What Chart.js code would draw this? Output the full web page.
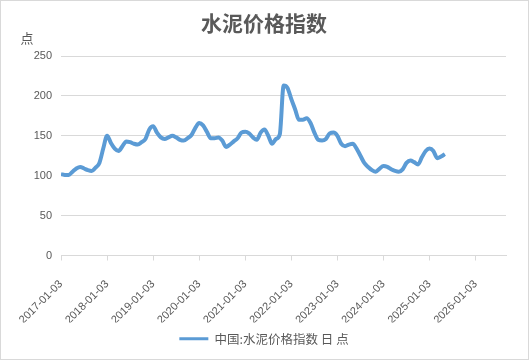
<!DOCTYPE html>
<html>
<head>
<meta charset="utf-8">
<script src="https://cdn.jsdelivr.net/npm/chart.js@4"></script>
<style>
  body { margin: 0; background: #fff; }
  #wrap { position: relative; width: 529px; height: 360px; }
  #frame { position: absolute; left: 0; top: 0; width: 529px; height: 360px; box-sizing: border-box; border: 1px solid #d9d9d9; }
  #myChart { position: absolute; left: 0; top: 0; }
</style>
</head>
<body>
<div id="wrap">
  <div id="frame"></div>
  <canvas id="myChart" width="529" height="360"></canvas>
</div>
<script>
// months (YYYY-MM) and index values
var months = [
  '2017-01','2017-02','2017-03','2017-04','2017-05','2017-06','2017-07','2017-08','2017-09','2017-10','2017-11','2017-12',
  '2018-01','2018-02','2018-03','2018-04','2018-05','2018-06','2018-07','2018-08','2018-09','2018-10','2018-11','2018-12',
  '2019-01','2019-02','2019-03','2019-04','2019-05','2019-06','2019-07','2019-08','2019-09','2019-10','2019-11','2019-12',
  '2020-01','2020-02','2020-03','2020-04','2020-05','2020-06','2020-07','2020-08','2020-09','2020-10','2020-11','2020-12',
  '2021-01','2021-02','2021-03','2021-04','2021-05','2021-06','2021-07','2021-08','2021-09','2021-10','2021-11','2021-12',
  '2022-01','2022-02','2022-03','2022-04','2022-05','2022-06','2022-07','2022-08','2022-09','2022-10','2022-11','2022-12',
  '2023-01','2023-02','2023-03','2023-04','2023-05','2023-06','2023-07','2023-08','2023-09','2023-10','2023-11','2023-12',
  '2024-01','2024-02','2024-03','2024-04','2024-05','2024-06','2024-07','2024-08','2024-09','2024-10','2024-11','2024-12',
  '2025-01','2025-02','2025-03','2025-04','2025-05'
];
var indexValues = [
  102, 101, 101, 105, 109, 111, 109, 107, 106, 110, 116, 134,
  150, 141, 134, 131, 137, 143, 142, 140, 139, 142, 146, 158,
  162, 154, 148, 146, 148, 150, 148, 145, 144, 147, 151, 160,
  166, 163, 155, 147, 147, 148, 144, 136, 139, 143, 147, 154,
  155, 153, 148, 145, 154, 158, 150, 140, 146, 152, 213, 210,
  196, 183, 170, 170, 172, 166, 154, 145, 144, 146, 153, 154,
  150, 140, 137, 139, 140, 134, 125, 116, 111, 107, 105, 109,
  112, 111, 108, 106, 105, 108, 116, 119, 117, 114, 123, 131,
  134, 131, 122, 124, 127
];
var tickYears = [2017, 2018, 2019, 2020, 2021, 2022, 2023, 2024, 2025, 2026];
var yTicks = [0, 50, 100, 150, 200, 250];

var points = months.map(function(m, i) {
  var p = m.split('-');
  return { x: +p[0] + (+p[1] - 1) / 12, y: indexValues[i] };
});

var grey = '#595959';
var cjk = '"Noto Sans CJK SC", "Noto Sans", sans-serif';

// title and unit label
var titlePlugin = {
  id: 'titles',
  afterDraw: function(chart) {
    var c = chart.ctx;
    c.save();
    c.fillStyle = grey;
    c.textAlign = 'center';
    c.textBaseline = 'middle';
    c.font = 'bold 21px ' + cjk;
    c.fillText('水泥价格指数', 264, 23);
    c.font = '13px ' + cjk;
    c.fillText('点', 27, 38);
    c.restore();
  }
};

var ctx = document.getElementById('myChart');
new Chart(ctx, {
  type: 'line',
  data: {
    datasets: [{
      label: '中国:水泥价格指数 日 点',
      data: points,
      borderColor: '#5B9BD5',
      backgroundColor: '#5B9BD5',
      borderWidth: 4,
      pointRadius: 0,
      cubicInterpolationMode: 'monotone'
    }]
  },
  options: {
    responsive: false,
    animation: false,
    layout: { padding: { top: 56, right: 1, bottom: 5, left: 0 } },
    scales: {
      x: {
        type: 'linear',
        min: 2017,
        max: 2026.66,
        afterBuildTicks: function(s) { s.ticks = tickYears.map(function(v) { return { value: v }; }); },
        afterFit: function(s) { s.height = 67; },
        grid: { drawOnChartArea: false, drawTicks: true, tickLength: 5, color: '#d9d9d9' },
        border: { display: true, color: '#d9d9d9' },
        ticks: {
          minRotation: 45, maxRotation: 45, padding: 17,
          color: grey,
          font: { family: '"Liberation Sans", sans-serif', size: 11 },
          callback: function(v) { return v + '-01-03'; }
        }
      },
      y: {
        min: 0,
        max: 250,
        afterBuildTicks: function(s) { s.ticks = yTicks.map(function(v) { return { value: v }; }); },
        afterFit: function(s) { s.width = 61; },
        grid: { color: '#d9d9d9', drawTicks: false },
        border: { display: false },
        ticks: {
          padding: 9,
          color: grey,
          font: { family: '"Liberation Sans", sans-serif', size: 11 }
        }
      },
      // empty right-hand spacer so the legend centres like the reference
      yr: {
        position: 'right',
        afterFit: function(s) { s.width = 22; },
        grid: { display: false },
        border: { display: false },
        ticks: { display: false }
      }
    },
    plugins: {
      legend: {
        position: 'bottom',
        labels: {
          boxWidth: 29,
          boxHeight: 3,
          padding: 10,
          color: grey,
          font: { family: cjk, size: 12.5 },
          generateLabels: function(chart) {
            var items = Chart.defaults.plugins.legend.labels.generateLabels(chart);
            items.forEach(function(it) { it.lineWidth = 0; it.strokeStyle = 'rgba(0,0,0,0)'; });
            return items;
          }
        }
      },
      tooltip: { enabled: false }
    }
  },
  plugins: [titlePlugin]
});
</script>
</body>
</html>
